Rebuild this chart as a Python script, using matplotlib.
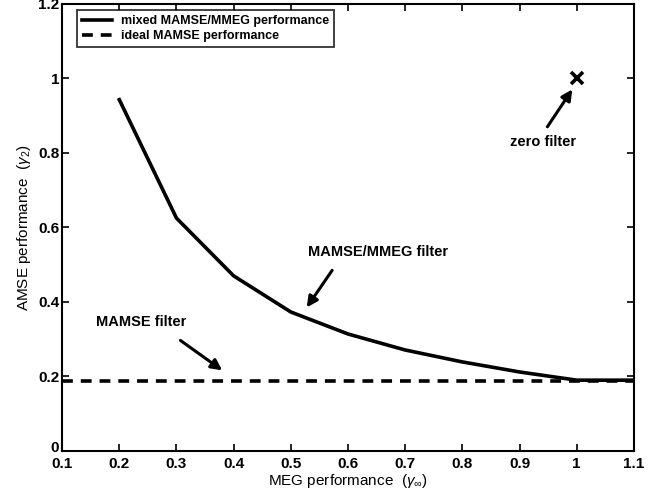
import matplotlib
matplotlib.use("Agg")
import matplotlib.pyplot as plt
from matplotlib.transforms import ScaledTranslation

# data
meg = [0.2, 0.3, 0.4, 0.5, 0.6, 0.7, 0.8, 0.9, 1.0, 1.1]
amse_mixed = [0.943, 0.625, 0.470, 0.373, 0.314, 0.271, 0.239, 0.212, 0.190, 0.190]
ideal_x = [0.1, 1.1]
ideal_amse = [0.188, 0.188]
zero_x = [1.0]
zero_y = [1.0]

xticks = [0.1, 0.2, 0.3, 0.4, 0.5, 0.6, 0.7, 0.8, 0.9, 1.0, 1.1]
xticklabels = ["0.1", "0.2", "0.3", "0.4", "0.5", "0.6", "0.7", "0.8", "0.9", "1", "1.1"]
yticks = [0, 0.2, 0.4, 0.6, 0.8, 1.0, 1.2]
yticklabels = ["0", "0.2", "0.4", "0.6", "0.8", "1", "1.2"]

plt.rcParams["font.family"] = ["Liberation Sans", "DejaVu Sans"]
plt.rcParams["mathtext.fontset"] = "custom"
plt.rcParams["mathtext.rm"] = "Liberation Sans"
plt.rcParams["mathtext.it"] = "Liberation Sans:italic"

fig = plt.figure(figsize=(6.61, 4.95), dpi=100)
ax = fig.add_axes([0.094, 0.089, 0.865, 0.903])

ax.plot(meg, amse_mixed, color="black", linewidth=2.6, label="mixed MAMSE/MMEG performance")
ax.plot(ideal_x, ideal_amse, color="black", linewidth=2.6, linestyle=(0, (3, 2.2)),
        label="ideal MAMSE performance")
ax.plot(zero_x, zero_y, marker="x", color="black", markersize=9, markeredgewidth=2.6,
        linestyle="none")

arrow = dict(arrowstyle="-|>", color="black", lw=2.2, mutation_scale=16)
ax.annotate("", xy=(0.995, 0.977), xytext=(0.946, 0.864), arrowprops=arrow)
ax.text(0.942, 0.83, "zero filter", ha="center", va="center", fontsize=10.5, weight="bold")
ax.annotate("", xy=(0.525, 0.379), xytext=(0.575, 0.491), arrowprops=arrow)
ax.text(0.653, 0.534, "MAMSE/MMEG filter", ha="center", va="center", fontsize=10.5, weight="bold")
ax.annotate("", xy=(0.384, 0.212), xytext=(0.303, 0.301), arrowprops=arrow)
ax.text(0.239, 0.346, "MAMSE filter", ha="center", va="center", fontsize=10.5, weight="bold")

ax.set_xlim(0.1, 1.1)
ax.set_ylim(0, 1.2)
ax.set_xticks(xticks)
ax.set_xticklabels(xticklabels, fontsize=11, weight="bold")
ax.set_yticks(yticks)
ax.set_yticklabels(yticklabels, fontsize=11, weight="bold")
ax.tick_params(direction="in", top=True, right=True, length=5, width=1.2, pad=2)
ax.tick_params(axis="x", pad=4)
# nudge the "0" label up a little so it clears "0.1", as in the original
zero_lbl = ax.get_yticklabels()[0]
zero_lbl.set_transform(zero_lbl.get_transform() + ScaledTranslation(0, 3 / 72, fig.dpi_scale_trans))
for spine in ax.spines.values():
    spine.set_linewidth(1.5)

ax.set_xlabel(r"MEG performance  ($\gamma_\infty$)", fontsize=11, labelpad=1)
ax.set_ylabel(r"AMSE performance  ($\gamma_2$)", fontsize=11, labelpad=4)

leg = ax.legend(loc="upper left", frameon=True, fancybox=False,
                prop={"size": 9.0, "weight": "bold"},
                handlelength=2.4, handletextpad=0.7, borderpad=0.4, labelspacing=0.25,
                borderaxespad=0.0, bbox_to_anchor=(0.026, 0.986))
leg.get_frame().set_edgecolor("black")
leg.get_frame().set_linewidth(1.3)

fig.savefig("out.png", dpi=100)
